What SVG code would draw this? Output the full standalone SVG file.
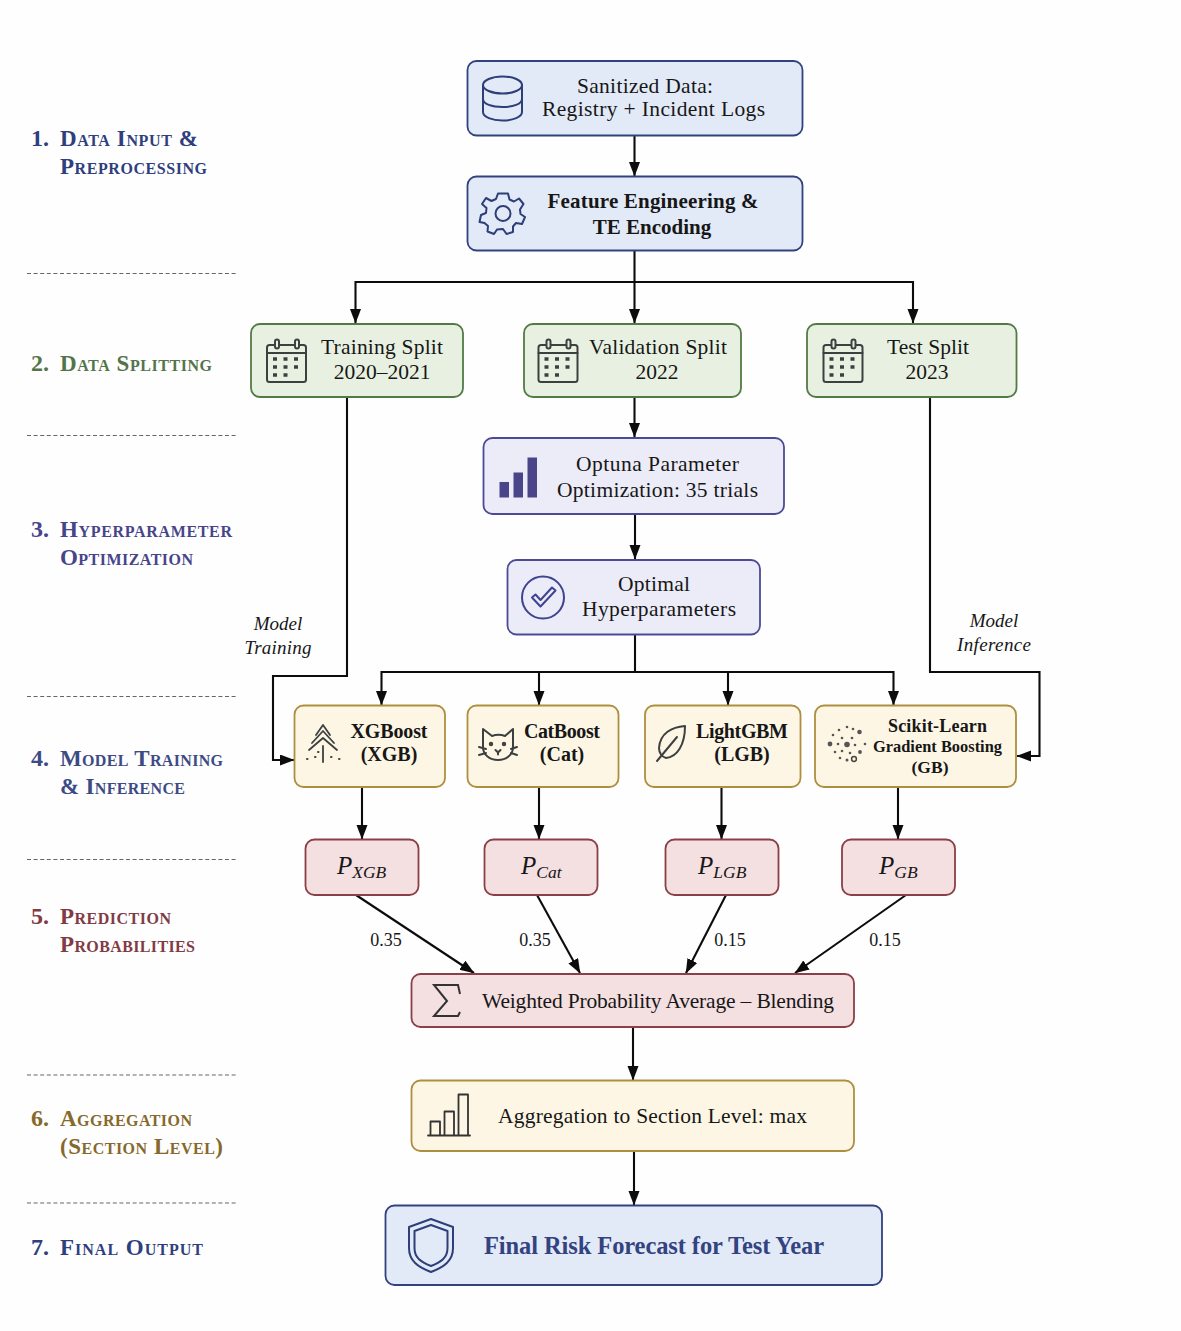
<svg xmlns="http://www.w3.org/2000/svg" width="1181" height="1331" viewBox="0 0 1181 1331">
<defs>
<style>
text{font-family:"Liberation Serif","Times New Roman",serif;fill:#171717;text-anchor:middle}
.box{stroke-width:1.8}
.blue{fill:#e3eaf7;stroke:#31427f}
.green{fill:#e8f1e1;stroke:#527a45}
.purple{fill:#ecebf8;stroke:#4c4a97}
.yellow{fill:#fdf6e4;stroke:#ae8f3f}
.red{fill:#f4dfe1;stroke:#8b3f46}
.t{font-size:21.500px}
.b{font-size:21px;font-weight:bold}
.m{font-size:20px;font-weight:bold}
.sk{font-size:18px;font-weight:bold}
.gr{font-size:16.400px;font-weight:bold}
.g3{font-size:17.500px;font-weight:bold}
.fin{font-size:24.500px;font-weight:bold;fill:#33437f}
.sec{font-size:23px;font-weight:bold;font-variant:small-caps;text-anchor:start}
.num{font-size:24px;font-weight:bold;text-anchor:start}
.i{font-size:19px;font-style:italic}
.w{font-size:18px}
.p{font-size:25px;font-style:italic;text-anchor:start}
.ps{font-size:17.500px}
.c1{fill:#2f3f7d}.c2{fill:#54744a}.c3{fill:#47448a}.c4{fill:#3d4b85}.c5{fill:#813b44}.c6{fill:#86692c}
.div{stroke:#666;stroke-width:1.2;stroke-dasharray:4 2.600;fill:none}
.con{fill:none;stroke:#0c0c0c;stroke-width:2.100}
.ic{fill:none;stroke-width:2;stroke-linejoin:round;stroke-linecap:round}
.navy{stroke:#2d3e79}.gray{stroke:#3c4040}.dark{stroke:#333}
.dots{stroke-linecap:butt;stroke-width:3.500;stroke-dasharray:4 6.500}
</style>
<marker id="a" markerUnits="userSpaceOnUse" markerWidth="15" markerHeight="12" refX="14" refY="5.500" orient="auto"><path d="M0 0L14.500 5.500L0 11z" fill="#0c0c0c"/></marker>
</defs>
<rect width="1181" height="1331" fill="#fefefe"/>
<g id="sections">
<g id="sec1"><text x="31" y="146" class="num c1">1.</text><text x="60" y="146" class="sec c1" textLength="138">Data Input &amp;</text><text x="60" y="174" class="sec c1" textLength="147">Preprocessing</text></g>
<g id="sec2"><text x="31" y="371" class="num c2">2.</text><text x="60" y="371" class="sec c2" textLength="152">Data Splitting</text></g>
<g id="sec3"><text x="31" y="537" class="num c3">3.</text><text x="60" y="537" class="sec c3" textLength="172">Hyperparameter</text><text x="60" y="565" class="sec c3" textLength="133">Optimization</text></g>
<g id="sec4"><text x="31" y="766" class="num c4">4.</text><text x="60" y="766" class="sec c4" textLength="163">Model Training</text><text x="60" y="794" class="sec c4" textLength="125">&amp; Inference</text></g>
<g id="sec5"><text x="31" y="924" class="num c5">5.</text><text x="60" y="924" class="sec c5" textLength="111">Prediction</text><text x="60" y="952" class="sec c5" textLength="135">Probabilities</text></g>
<g id="sec6"><text x="31" y="1126" class="num c6">6.</text><text x="60" y="1126" class="sec c6" textLength="132">Aggregation</text><text x="60" y="1154" class="sec c6" textLength="163">(Section Level)</text></g>
<g id="sec7"><text x="31" y="1255" class="num c1">7.</text><text x="60" y="1255" class="sec c1" textLength="143">Final Output</text></g>
</g>
<g id="dividers">
<path class="div" d="M27 273.500H238M27 435.500H238M27 696.500H238M27 859.500H238M27 1075H238M27 1203H238"/>
</g>
<g id="connectors">
<path class="con" marker-end="url(#a)" d="M634.500 135V176"/>
<path class="con" marker-end="url(#a)" d="M634.500 250V323"/>
<path class="con" marker-end="url(#a)" d="M634.500 282H355.500V323"/>
<path class="con" marker-end="url(#a)" d="M634.500 282H913V323"/>
<path class="con" marker-end="url(#a)" d="M634.500 397V437"/>
<path class="con" marker-end="url(#a)" d="M635 514V559"/>
<path class="con" d="M635 634V672"/>
<path class="con" marker-end="url(#a)" d="M635 672H381.500V705"/>
<path class="con" marker-end="url(#a)" d="M635 672H539V705"/>
<path class="con" marker-end="url(#a)" d="M635 672H728V705"/>
<path class="con" marker-end="url(#a)" d="M635 672H893.500V705"/>
<path class="con" marker-end="url(#a)" d="M347 397V676H273V760H294"/>
<path class="con" marker-end="url(#a)" d="M930 397V672H1039.500V756H1017"/>
<path class="con" marker-end="url(#a)" d="M362 787V839"/>
<path class="con" marker-end="url(#a)" d="M539 787V839"/>
<path class="con" marker-end="url(#a)" d="M721.500 787V839"/>
<path class="con" marker-end="url(#a)" d="M898 787V839"/>
<path class="con" marker-end="url(#a)" d="M356 895L474 973"/>
<path class="con" marker-end="url(#a)" d="M537 895L580 973"/>
<path class="con" marker-end="url(#a)" d="M726 895L686 973"/>
<path class="con" marker-end="url(#a)" d="M906 895L795 973"/>
<path class="con" marker-end="url(#a)" d="M633 1027V1080"/>
<path class="con" marker-end="url(#a)" d="M634 1151V1205"/>
</g>
<g id="connector-labels">
<text x="278" y="630" class="i">Model</text><text x="278" y="654" class="i" textLength="67">Training</text>
<text x="994" y="627" class="i">Model</text><text x="994" y="651" class="i" textLength="74">Inference</text>
<text x="386" y="946" class="w">0.35</text><text x="535" y="946" class="w">0.35</text><text x="730" y="946" class="w">0.15</text><text x="885" y="946" class="w">0.15</text>
</g>
<g id="n-data"><rect class="box blue" x="467.500" y="61" width="335" height="74.500" rx="9"/>
<g class="ic navy"><ellipse cx="502.500" cy="85" rx="19.500" ry="8.500"/><path d="M483 85V112C483 117 492 120.500 502.500 120.500S522 117 522 112V85M483 99C483 104 492 107 502.500 107S522 104 522 99"/></g>
<text x="645" y="93" class="t" textLength="136">Sanitized Data:</text><text x="653.500" y="116" class="t" textLength="223">Registry + Incident Logs</text></g>
<g id="n-feature"><rect class="box blue" x="467.500" y="176.500" width="335" height="74" rx="9"/>
<g class="ic navy"><circle cx="503" cy="213.500" r="7.500"/><path d="M498 193.500H508L509.500 199.500L514 201.500L519 198.500L523.500 204L520 209.500L520.500 214L525 217L522 224L516 223L513 226.500L513 232L506.500 234L503 229L497 229.500L494 234L487.500 231.500L488 226L484.500 223L479.500 222L481 215L486 213L486.500 208L482 204L486 198L491.500 201L496 199Z"/></g>
<text x="653" y="208" class="b" textLength="211">Feature Engineering &amp;</text><text x="652" y="234" class="b">TE Encoding</text></g>
<g id="n-train"><rect class="box green" x="251" y="324" width="212" height="73" rx="9"/>
<g class="ic gray"><rect x="267" y="345" width="39" height="37" rx="2.500"/><path d="M267 353H306"/><rect x="275" y="339.500" width="4" height="9" rx="2" fill="#e8f1e1"/><rect x="295" y="339.500" width="4" height="9" rx="2" fill="#e8f1e1"/><path class="dots" d="M273 359H300M273 367H300M273 375H290"/></g>
<text x="382" y="354" class="t" textLength="122">Training Split</text><text x="382" y="379" class="t">2020–2021</text></g>
<g id="n-val"><rect class="box green" x="524" y="324" width="217" height="73" rx="9"/>
<g class="ic gray"><rect x="538.500" y="345" width="39" height="37" rx="2.500"/><path d="M538.500 353H577.500"/><rect x="546.500" y="339.500" width="4" height="9" rx="2" fill="#e8f1e1"/><rect x="566.500" y="339.500" width="4" height="9" rx="2" fill="#e8f1e1"/><path class="dots" d="M544.500 359H571.500M544.500 367H571.500M544.500 375H561.500"/></g>
<text x="658" y="354" class="t" textLength="138">Validation Split</text><text x="657" y="379" class="t">2022</text></g>
<g id="n-test"><rect class="box green" x="807" y="324" width="209.500" height="73" rx="9"/>
<g class="ic gray"><rect x="823.500" y="345" width="39" height="37" rx="2.500"/><path d="M823.500 353H862.500"/><rect x="831.500" y="339.500" width="4" height="9" rx="2" fill="#e8f1e1"/><rect x="851.500" y="339.500" width="4" height="9" rx="2" fill="#e8f1e1"/><path class="dots" d="M829.500 359H856.500M829.500 367H856.500M829.500 375H846.500"/></g>
<text x="928" y="354" class="t" textLength="82">Test Split</text><text x="927" y="379" class="t">2023</text></g>
<g id="n-optuna"><rect class="box purple" x="483.500" y="438" width="300.500" height="76" rx="9"/>
<path fill="#4a4488" d="M499.500 482h9.500v15.500h-9.500zM513.500 472.500h9.500v25h-9.500zM527.500 457.500h9.500v40h-9.500z"/>
<text x="657.500" y="471" class="t" textLength="163">Optuna Parameter</text><text x="657.500" y="497" class="t" textLength="201">Optimization: 35 trials</text></g>
<g id="n-optimal"><rect class="box purple" x="507.500" y="560" width="252.500" height="74.500" rx="9"/>
<g class="ic" stroke="#3f4390"><circle cx="543" cy="597.500" r="21"/><path d="M532 597.500L540.500 606.500L555.500 590.500L552 587.500L540.500 600L535.500 594.500Z"/></g>
<text x="654" y="591" class="t" textLength="72">Optimal</text><text x="659" y="616" class="t" textLength="154">Hyperparameters</text></g>
<g id="n-xgb"><rect class="box yellow" x="294.500" y="705.500" width="150.500" height="81.500" rx="9"/>
<g class="ic gray"><path stroke-width="1.800" d="M316 735L323 725L330 735M312 743L323 731L334 743M309 750L323 738L337 750M323 746V762"/><path d="M307 759H307.500M315 757H315.500M331 757H331.500M339 759H339.500M318 752H318.500"/></g>
<text x="389" y="738" class="m" textLength="77">XGBoost</text><text x="389" y="761" class="m">(XGB)</text></g>
<g id="n-cat"><rect class="box yellow" x="467.500" y="705.500" width="151" height="81.500" rx="9"/>
<g class="ic gray"><path d="M483 729L492 736C496 734.500 501 734.500 505 736L513 729V747C513 755 506 760 498 760S483 755 483 747Z"/><path d="M479 747L486 749M479 755L486 753M511 749L517 747M511 753L517 755M495.500 750L498 752.500L500.500 750M498 752.500V754.500"/><circle cx="491" cy="744" r="1.200"/><circle cx="504" cy="744" r="1.200"/></g>
<text x="562" y="738" class="m" textLength="76">CatBoost</text><text x="562" y="761" class="m">(Cat)</text></g>
<g id="n-lgb"><rect class="box yellow" x="645" y="705.500" width="155.500" height="81.500" rx="9"/>
<g class="ic gray"><path d="M685 726C672 727 660 733 659 748C659 753 662 757 666 758C677 757 685 745 685 726Z"/><path d="M657 761L677 737"/></g>
<text x="742" y="738" class="m" textLength="92">LightGBM</text><text x="742" y="761" class="m">(LGB)</text></g>
<g id="n-gb"><rect class="box yellow" x="815" y="705.500" width="201" height="81.500" rx="9"/>
<g fill="#555"><circle cx="847" cy="744.500" r="2.800"/><circle cx="830" cy="744" r="2.400"/><circle cx="859.500" cy="732" r="2.300"/><circle cx="860" cy="752" r="1.900"/><circle cx="847" cy="727" r="1.300"/><circle cx="839" cy="730" r="1.300"/><circle cx="833" cy="735" r="1.300"/><circle cx="853" cy="729" r="1.300"/><circle cx="865" cy="744" r="1.300"/><circle cx="842" cy="738" r="1.300"/><circle cx="852" cy="738" r="1.300"/><circle cx="838" cy="744" r="1.300"/><circle cx="855" cy="745" r="1.300"/><circle cx="835" cy="752" r="1.300"/><circle cx="842" cy="751" r="1.300"/><circle cx="850" cy="753" r="1.300"/><circle cx="840" cy="758" r="1.300"/><circle cx="847" cy="760" r="1.500"/></g>
<circle cx="854" cy="759" r="2.400" fill="none" stroke="#444" stroke-width="1.500"/>
<text x="937.500" y="732" class="sk" textLength="99">Scikit-Learn</text><text x="937.500" y="752" class="gr" textLength="129">Gradient Boosting</text><text x="930" y="773" class="g3">(GB)</text></g>
<g id="n-pxgb"><rect class="box red" x="305.500" y="839.500" width="113" height="55.500" rx="9"/><text x="337" y="874" class="p">P<tspan class="ps" dy="4">XGB</tspan></text></g>
<g id="n-pcat"><rect class="box red" x="484.500" y="839.500" width="113" height="55.500" rx="9"/><text x="521" y="874" class="p">P<tspan class="ps" dy="4">Cat</tspan></text></g>
<g id="n-plgb"><rect class="box red" x="665.500" y="839.500" width="113" height="55.500" rx="9"/><text x="698" y="874" class="p">P<tspan class="ps" dy="4">LGB</tspan></text></g>
<g id="n-pgb"><rect class="box red" x="842" y="839.500" width="113" height="55.500" rx="9"/><text x="879" y="874" class="p">P<tspan class="ps" dy="4">GB</tspan></text></g>
<g id="n-blend"><rect class="box red" x="411.500" y="974" width="442.500" height="53" rx="9"/>
<path d="M460 994L458 985H434L447 1001L434 1016H458L460 1012" fill="none" stroke="#333" stroke-width="2"/>
<text x="658" y="1008" class="t" textLength="352">Weighted Probability Average – Blending</text></g>
<g id="n-agg"><rect class="box yellow" x="411.500" y="1080.500" width="442.500" height="70.500" rx="9"/>
<g class="ic dark"><path stroke-width="1.800" d="M428 1135.500H470M430.500 1135.500V1121.500H440V1135.500M444.500 1135.500V1111.500H454V1135.500M458.500 1135.500V1094.500H468V1135.500"/></g>
<text x="652.500" y="1123" class="t" textLength="309">Aggregation to Section Level: max</text></g>
<g id="n-final"><rect class="box blue" x="385.500" y="1205.500" width="496.500" height="79.500" rx="9"/>
<g class="ic navy"><path d="M431 1219L453 1227V1248C453 1261 444 1267 431 1272C418 1267 409 1261 409 1248V1227Z"/><path d="M431 1225L447.500 1231V1248C447.500 1258 441 1262 431 1266C421 1262 414.500 1258 414.500 1248V1231Z"/></g>
<text x="654" y="1254" class="fin" textLength="340">Final Risk Forecast for Test Year</text></g>
</svg>
